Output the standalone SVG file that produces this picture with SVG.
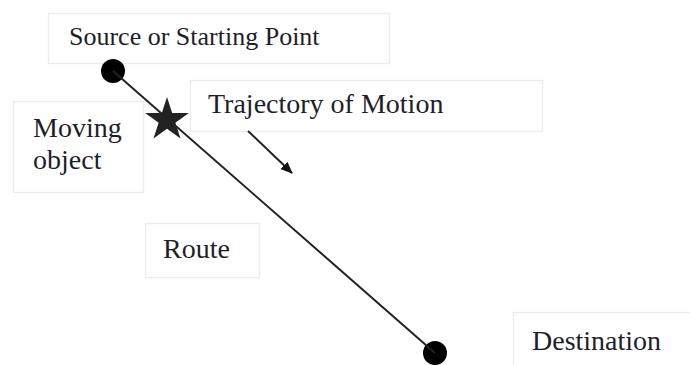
<svg xmlns="http://www.w3.org/2000/svg" width="690" height="365" viewBox="0 0 690 365">
  <style>
    .box { fill: #ffffff; stroke: #ededed; stroke-width: 1.5; }
    .label { font-family: "Liberation Serif", "Times New Roman", serif; font-size: 28px; fill: #1e1e2a; }
    .route { stroke: #222222; stroke-width: 2; fill: none; }
    .dot { fill: #000000; }
  </style>
  <defs>
    <marker id="arrowhead" viewBox="0 0 12 10" refX="11" refY="5" markerWidth="12" markerHeight="10" markerUnits="userSpaceOnUse" orient="auto">
      <path d="M0,0 L12,5 L0,10 Z" fill="#111111"/>
    </marker>
  </defs>
  <rect width="690" height="365" fill="#ffffff"/>

  <g id="source">
    <rect class="box" x="48.5" y="13.5" width="341" height="50"/>
    <text class="label" x="69" y="45" style="font-size:26px">Source or Starting Point</text>
  </g>

  <g id="trajectory">
    <rect class="box" x="190.5" y="80.5" width="352" height="51"/>
    <text class="label" x="208" y="113">Trajectory of Motion</text>
  </g>

  <g id="moving-object">
    <rect class="box" x="13.5" y="101.5" width="130" height="91"/>
    <text class="label" x="33" y="137">Moving</text>
    <text class="label" x="33" y="169">object</text>
  </g>

  <g id="route">
    <rect class="box" x="145.5" y="223.5" width="114" height="54"/>
    <text class="label" x="163" y="258">Route</text>
  </g>

  <g id="destination">
    <rect class="box" x="513.5" y="312.5" width="180" height="60"/>
    <text class="label" x="532" y="350">Destination</text>
  </g>

  <g id="start-point">
    <circle class="dot" cx="113" cy="71" r="12"/>
  </g>

  <g id="end-point">
    <circle class="dot" cx="435" cy="353" r="12"/>
  </g>

  <g id="object-marker">
    <polygon fill="#222222" points="167,97 172.17,112.89 188.87,112.89 175.36,122.72 180.52,138.61 167,128.79 153.48,138.61 158.64,122.72 145.13,112.89 161.83,112.89"/>
  </g>

  <g id="connectors">
    <line class="route" x1="113" y1="71" x2="435" y2="353"/>
    <line class="route" x1="248" y1="131" x2="292" y2="173" marker-end="url(#arrowhead)"/>
  </g>
</svg>
